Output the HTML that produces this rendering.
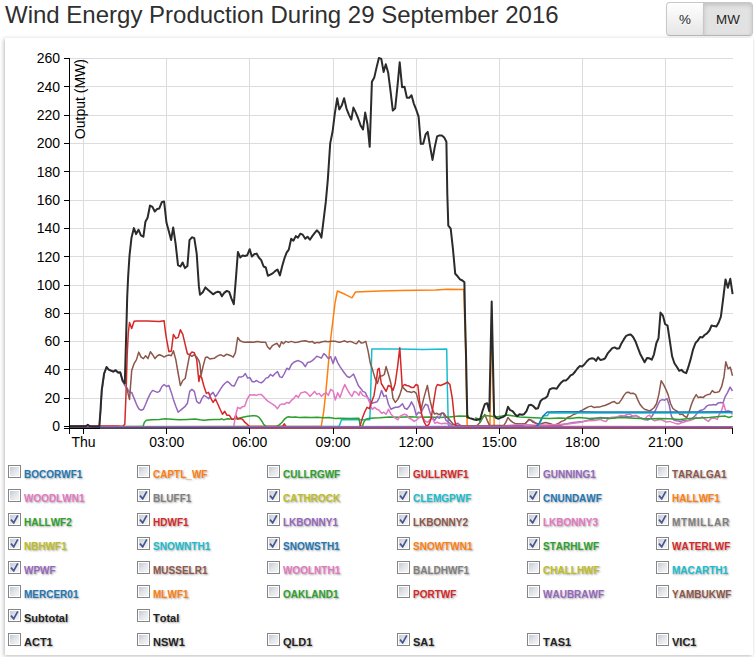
<!DOCTYPE html>
<html>
<head>
<meta charset="utf-8">
<title>Wind Energy Production</title>
<style>
html,body{margin:0;padding:0;background:#fff;}
body{width:755px;height:657px;position:relative;overflow:hidden;font-family:"Liberation Sans",sans-serif;color:#333;}
h1{position:absolute;left:5px;top:-1px;margin:0;font-weight:normal;font-size:24px;line-height:31px;color:#2f2f2f;white-space:nowrap;letter-spacing:0;}
.bg{position:absolute;left:666px;top:2px;height:33px;width:87px;}
.btn{position:absolute;top:0;height:32px;border:1px solid #c8c8c8;border-bottom-color:#b8b8b8;font-size:13.4px;line-height:33px;text-align:center;color:#222;text-shadow:0 1px 1px rgba(255,255,255,.75);box-shadow:inset 0 1px 0 rgba(255,255,255,.2),0 1px 2px rgba(0,0,0,.05);}
.b1{left:0;width:36px;border-radius:4px 0 0 4px;background:linear-gradient(to bottom,#ffffff,#e6e6e6);}
.b2{left:37px;width:48px;border-radius:0 4px 4px 0;background:#e2e2e2;box-shadow:inset 0 2px 4px rgba(0,0,0,.15),0 1px 2px rgba(0,0,0,.05);}
.panel{position:absolute;left:5px;top:38px;width:748px;height:617px;background:#fff;box-shadow:-1px 1px 4px rgba(0,0,0,.27);}
svg{position:absolute;left:0;top:0;}
.t{font-family:"Liberation Sans",sans-serif;font-size:14px;fill:#000;}
.li{position:absolute;height:13px;white-space:nowrap;}
.cb{position:absolute;left:0;top:0;width:11px;height:11px;border:1px solid #858585;background:#fff;}
.cb:before{content:"";position:absolute;left:1px;top:1px;width:9px;height:9px;background:linear-gradient(135deg,#c4cad4 0%,#e2e5e9 50%,#f6f6f6 100%);}
.cb svg{position:absolute;left:0;top:0;}
.lb{position:absolute;left:16px;top:3px;font-kerning:none;font-size:10px;font-weight:bold;line-height:13px;text-shadow:1px 1px 2px rgba(0,0,0,.35);}
.lb.k{font-size:11px;}
</style>
</head>
<body>
<h1>Wind Energy Production During 29 September 2016</h1>
<div class="bg"><div class="btn b1">%</div><div class="btn b2">MW</div></div>
<div class="panel"></div>
<svg width="755" height="657" viewBox="0 0 755 657">
<line x1="83.5" x2="83.5" y1="58.5" y2="426.5" stroke="#dcdcdc" stroke-width="1" shape-rendering="crispEdges"/>
<line x1="166.7" x2="166.7" y1="58.5" y2="426.5" stroke="#dcdcdc" stroke-width="1" shape-rendering="crispEdges"/>
<line x1="249.8" x2="249.8" y1="58.5" y2="426.5" stroke="#dcdcdc" stroke-width="1" shape-rendering="crispEdges"/>
<line x1="333.0" x2="333.0" y1="58.5" y2="426.5" stroke="#dcdcdc" stroke-width="1" shape-rendering="crispEdges"/>
<line x1="416.1" x2="416.1" y1="58.5" y2="426.5" stroke="#dcdcdc" stroke-width="1" shape-rendering="crispEdges"/>
<line x1="499.2" x2="499.2" y1="58.5" y2="426.5" stroke="#dcdcdc" stroke-width="1" shape-rendering="crispEdges"/>
<line x1="582.4" x2="582.4" y1="58.5" y2="426.5" stroke="#dcdcdc" stroke-width="1" shape-rendering="crispEdges"/>
<line x1="665.6" x2="665.6" y1="58.5" y2="426.5" stroke="#dcdcdc" stroke-width="1" shape-rendering="crispEdges"/>
<line x1="69.5" x2="732.5" y1="58.5" y2="58.5" stroke="#dcdcdc" stroke-width="1" shape-rendering="crispEdges"/>
<line x1="69.5" x2="732.5" y1="86.8" y2="86.8" stroke="#dcdcdc" stroke-width="1" shape-rendering="crispEdges"/>
<line x1="69.5" x2="732.5" y1="115.1" y2="115.1" stroke="#dcdcdc" stroke-width="1" shape-rendering="crispEdges"/>
<line x1="69.5" x2="732.5" y1="143.4" y2="143.4" stroke="#dcdcdc" stroke-width="1" shape-rendering="crispEdges"/>
<line x1="69.5" x2="732.5" y1="171.7" y2="171.7" stroke="#dcdcdc" stroke-width="1" shape-rendering="crispEdges"/>
<line x1="69.5" x2="732.5" y1="200.0" y2="200.0" stroke="#dcdcdc" stroke-width="1" shape-rendering="crispEdges"/>
<line x1="69.5" x2="732.5" y1="228.3" y2="228.3" stroke="#dcdcdc" stroke-width="1" shape-rendering="crispEdges"/>
<line x1="69.5" x2="732.5" y1="256.7" y2="256.7" stroke="#dcdcdc" stroke-width="1" shape-rendering="crispEdges"/>
<line x1="69.5" x2="732.5" y1="285.0" y2="285.0" stroke="#dcdcdc" stroke-width="1" shape-rendering="crispEdges"/>
<line x1="69.5" x2="732.5" y1="313.3" y2="313.3" stroke="#dcdcdc" stroke-width="1" shape-rendering="crispEdges"/>
<line x1="69.5" x2="732.5" y1="341.6" y2="341.6" stroke="#dcdcdc" stroke-width="1" shape-rendering="crispEdges"/>
<line x1="69.5" x2="732.5" y1="369.9" y2="369.9" stroke="#dcdcdc" stroke-width="1" shape-rendering="crispEdges"/>
<line x1="69.5" x2="732.5" y1="398.2" y2="398.2" stroke="#dcdcdc" stroke-width="1" shape-rendering="crispEdges"/>
<path d="M69.5,426.8L339.1,426.4L341.5,419.8L341.6,419.8L369.8,419.8L370.4,404.3L371.8,349.1L399.6,349.1L423.4,349.5L446.7,349.1L447.3,384.5L448.3,424.2L449.3,426.4" fill="none" stroke="#17becf" stroke-width="1.5" stroke-linejoin="round"/>
<path d="M69.5,426.8L321.2,426.4L323.6,412.3L326.0,390.4L328.3,364.6L330.7,338.8L333.1,318.9L335.1,302.5L337.4,291.0L345.0,294.3L352.0,297.8L355.5,292.0L380.0,290.9L400.0,290.6L435.8,290.0L447.7,289.3L463.8,289.4L465.6,349.0L467.2,426.8L489.9,426.8L491.6,316.0L494.2,426.8L732.5,426.8" fill="none" stroke="#ff7f0e" stroke-width="1.5" stroke-linejoin="round"/>
<path d="M69.3,426.4L143.0,426.4L144.4,422.2L146.4,420.2L151.4,419.8L159.3,419.4L165.3,418.8L171.3,419.2L179.2,419.8L187.2,419.4L195.1,419.0L200.0,419.8L204.0,420.2L208.9,419.8L213.9,419.4L219.9,419.6L221.9,418.8L223.8,419.8L227.8,418.8L232.8,419.2L237.7,418.6L242.7,417.3L247.7,416.3L252.6,415.7L256.6,415.9L259.0,417.3L261.2,420.2L263.6,424.2L266.0,426.4L276.5,426.4L279.5,424.6L282.1,422.2L284.4,419.2L286.8,417.3L289.0,416.7L291.4,417.3L295.4,416.9L299.3,417.6L305.3,417.3L311.3,417.6L317.2,417.3L323.2,417.8L329.1,417.6L335.1,418.6L340.0,418.2L349.9,418.6L358.9,418.2L359.9,424.2L360.9,426.4L362.3,426.4L363.8,422.2L365.8,419.2L369.8,418.2L379.7,417.8L389.7,416.9L399.6,417.3L409.5,416.7L419.5,417.3L429.4,416.9L439.3,417.6L449.3,416.9L459.2,415.9L469.1,416.3" fill="none" stroke="#2ca02c" stroke-width="1.5" stroke-linejoin="round"/>
<path d="M69.3,426.0L117.6,426.0L122.6,426.6L124.8,424.2L126.0,394.4L127.2,354.7L128.3,332.8L129.5,322.5L131.7,328.4L134.1,321.3L136.5,320.9L147.4,321.1L159.3,321.5L164.1,320.7L165.3,330.8L166.5,338.8L168.9,351.7L171.3,351.1L173.4,334.4L175.8,338.4L178.2,337.4L180.4,329.8L182.8,334.4L185.2,344.7L187.4,353.7L189.7,354.7L191.9,352.1L194.3,352.7L196.7,359.6L198.9,381.5L200.0,375.5L201.6,377.5L204.0,386.5L206.4,393.4L208.5,392.4L210.9,398.4L213.1,402.4L215.5,399.0L217.9,404.3L220.1,409.3L222.5,414.3L224.8,411.3L227.0,415.3L229.4,415.3L231.8,419.2L234.0,419.2L235.8,415.3L237.7,419.2L240.1,418.6L242.5,419.2L244.7,422.2L247.1,424.2L249.3,426.4L282.5,426.4L284.4,423.8L285.8,426.4" fill="none" stroke="#d62728" stroke-width="1.5" stroke-linejoin="round"/>
<path d="M69.3,426.4L99.3,426.6L100.7,410.3L101.9,390.4L104.3,373.7L106.7,367.4L108.9,369.8L111.3,371.0L113.4,371.8L115.8,370.4L118.2,372.7L120.4,372.5L122.6,381.5L124.8,385.5L127.2,388.4L129.5,392.4L131.7,392.4L134.1,398.4L136.5,404.3L138.7,408.7L141.1,410.3L143.4,409.3L145.6,404.3L148.0,398.4L150.4,393.4L152.6,390.4L155.0,391.4L157.4,392.4L159.5,391.4L161.9,386.5L164.1,384.5L166.5,386.5L168.9,385.5L171.3,392.4L173.4,399.4L175.8,406.3L178.2,412.3L180.4,410.3L182.8,408.3L185.2,406.3L187.4,403.3L189.7,391.4L191.9,389.4L194.3,391.4L196.7,401.4L198.9,403.3L200.0,402.9L202.0,398.4L204.0,395.4L206.4,396.8L208.7,398.8L210.9,394.4L213.1,392.4L215.5,396.8L217.9,393.4L220.3,389.4L222.5,386.1L224.8,383.5L227.2,381.5L229.4,382.9L231.8,385.5L234.2,386.1L236.4,381.5L238.7,376.9L241.1,377.1L243.3,376.1L245.3,373.5L247.7,378.1L249.7,377.5L252.1,381.5L254.2,381.9L256.6,380.5L259.0,382.1L261.2,382.9L263.6,381.1L266.0,378.1L268.1,377.5L270.5,374.5L272.9,376.1L275.1,373.5L277.5,371.6L279.9,376.9L282.1,377.5L284.4,373.5L286.8,368.2L289.0,369.6L291.4,364.6L293.8,362.2L296.0,361.2L298.3,360.6L300.7,361.6L302.9,363.2L305.3,366.6L307.5,362.6L309.9,362.0L312.3,360.6L314.6,358.6L316.8,356.3L319.2,357.1L321.4,358.2L323.8,353.7L326.2,355.7L328.3,358.6L330.7,356.7L333.1,363.6L335.3,356.7L337.7,362.6L340.0,366.6L342.4,370.2L344.8,373.5L347.2,376.5L349.5,377.5L351.9,375.5L353.5,374.1L355.9,379.5L358.3,385.5L360.7,388.4L362.8,391.4L365.2,392.4L367.6,397.4L369.8,400.4L372.2,403.3L374.6,402.4L377.0,401.8L379.1,398.4L381.5,390.4L383.9,396.4L386.1,395.4L388.5,404.3L390.9,409.3L393.0,408.3L395.4,407.3L397.8,407.3L400.0,406.3L402.4,403.7L404.8,408.3L407.0,409.3L409.3,406.3L411.5,401.8L413.9,406.3L416.3,415.3L418.5,412.3L420.9,413.3L423.2,408.3L425.4,404.3L427.8,405.3L430.2,413.3L432.4,418.2L434.8,420.2L437.2,416.3L439.3,418.2L441.7,413.3L443.3,413.3L445.9,420.2L448.3,422.2L450.7,424.2L452.8,424.8L455.2,424.2L457.6,423.2L460.0,425.2L462.2,426.2L480.0,425.8L522.7,425.6L526.7,422.0L529.7,419.4L533.6,421.4L537.6,424.8L545.6,425.4L559.5,425.4L565.4,424.0L573.4,422.4L583.3,421.4L591.3,419.4L597.2,418.6L600.0,417.5L606.0,418.0L611.9,417.5L617.9,416.9L623.8,416.1L629.8,416.9L635.8,415.5L639.7,417.5L643.7,419.4L647.7,420.0L650.7,418.4L653.0,414.5L655.4,410.5L657.6,405.5L660.0,400.6L662.4,399.6L664.6,400.2L667.0,398.6L669.3,405.5L671.5,416.5L673.9,420.0L676.3,420.8L678.5,421.0L680.9,421.4L683.4,420.4L685.8,420.8L688.2,420.4L690.4,419.4L692.8,418.0L695.4,415.5L697.4,412.9L699.7,410.5L702.1,410.1L704.3,408.9L706.7,406.1L709.1,404.9L711.3,404.9L713.6,404.5L716.0,404.9L718.2,402.9L720.6,402.5L723.0,402.9L725.2,396.6L727.5,392.6L730.1,387.1L732.5,391.0" fill="none" stroke="#9467bd" stroke-width="1.5" stroke-linejoin="round"/>
<path d="M126.4,386.9L129.5,399.4L131.7,370.6L134.1,363.6L136.5,359.6L138.7,352.1L141.1,357.1L143.4,358.6L145.6,355.7L148.0,358.6L150.4,351.7L152.6,354.7L155.0,358.6L157.4,355.7L159.5,354.7L161.9,355.7L164.1,357.1L166.5,355.7L168.9,355.1L171.3,355.7L173.4,350.7L175.8,359.6L178.2,373.5L180.4,385.5L182.8,380.5L185.2,378.5L187.4,366.6L189.7,354.7L191.9,356.3L194.3,354.7L196.7,357.1L198.9,360.6L200.0,364.6L201.0,375.5L203.0,366.6L205.4,357.6L207.5,357.1L209.9,359.0L212.3,358.6L214.5,358.2L216.9,356.3L219.3,355.1L221.5,355.1L223.8,356.3L226.2,354.3L228.4,354.7L230.8,355.7L233.2,357.1L235.4,352.7L237.7,337.4L240.1,340.8L242.5,341.8L244.7,342.2L249.7,342.0L253.6,342.2L257.6,341.4L261.6,342.2L265.6,342.2L267.5,346.7L269.9,349.1L272.3,345.7L274.7,344.3L277.1,343.3L279.5,347.1L281.5,341.8L283.4,343.7L285.8,341.4L288.4,342.4L291.4,341.4L294.4,342.4L297.4,342.2L301.3,341.2L305.3,340.8L309.3,342.0L312.3,341.4L314.6,343.3L317.2,342.4L319.2,342.7L322.2,341.8L325.2,341.2L328.1,341.8L331.1,341.2L335.1,341.2L339.1,342.2L340.0,342.2L342.4,341.4L344.8,340.8L347.2,342.2L349.5,341.4L351.9,341.8L354.3,343.1L356.5,343.7L358.9,340.8L361.3,343.1L363.4,342.7L365.8,341.4L368.0,350.7L370.4,363.6L372.8,370.6L375.0,378.1L377.4,383.5L379.7,375.5L381.9,376.1L384.3,374.5L386.1,366.6L388.5,374.5L390.9,383.5L393.0,398.4L395.4,402.4L397.8,399.4L400.0,394.4L402.4,386.5L404.8,389.4L407.0,391.4L409.3,391.8L411.7,392.4L413.9,391.4L416.3,393.4L418.7,402.4L420.9,410.3L423.2,400.4L425.4,392.4L427.4,385.5L429.8,399.4L432.0,408.3L434.4,413.9L436.8,413.3L438.9,414.7L441.3,413.3L443.7,413.3L445.9,416.3L448.3,418.2L450.7,421.2L452.8,423.8L455.2,425.2L463.2,425.8L477.1,425.4L480.0,422.4L482.4,418.4L484.8,414.5L487.2,420.4L489.5,425.4L503.8,425.4L505.8,422.4L508.0,417.5L510.4,420.4L512.8,422.4L515.0,423.4L519.7,423.8L525.7,423.4L528.7,419.4L531.1,420.4L533.2,422.4L537.6,423.8L541.6,423.4L545.6,422.4L549.5,423.4L552.5,424.4L555.5,424.8L558.5,423.4L561.5,421.4L564.4,420.4L567.4,417.5L570.4,416.5L573.4,414.5L576.4,413.5L579.3,411.5L582.3,410.1L585.3,408.5L588.3,406.9L591.3,406.1L594.2,407.5L597.2,406.9L600.0,406.9L602.4,406.1L604.8,405.5L607.2,404.5L609.5,403.5L611.9,402.2L614.3,401.6L616.7,403.5L619.1,402.9L621.5,399.6L623.8,395.6L626.2,392.6L628.6,392.2L630.8,393.6L633.2,393.2L635.6,394.6L637.7,399.6L640.1,404.5L642.5,407.5L644.9,409.5L647.3,410.1L649.7,410.9L651.9,409.5L654.2,407.5L656.6,403.5L658.8,394.6L661.2,380.7L663.6,384.7L666.0,389.6L668.1,394.6L670.5,403.5L672.9,408.5L675.1,410.1L677.5,411.5L679.9,414.5L682.3,414.1L684.4,416.1L686.8,417.5L689.2,411.5L691.4,404.5L693.8,398.6L696.2,394.6L698.3,397.6L700.7,397.0L703.1,397.6L705.3,395.6L707.7,394.6L710.1,394.2L712.3,390.6L714.6,392.6L717.0,392.2L719.2,391.6L721.6,386.7L724.0,376.7L725.8,361.8L728.1,368.8L730.3,367.2L732.5,375.7" fill="none" stroke="#8c564b" stroke-width="1.5" stroke-linejoin="round"/>
<path d="M233.8,426.2L235.4,416.3L237.7,407.3L240.1,408.7L242.5,406.7L244.7,406.3L247.1,399.4L249.7,394.8L252.1,395.0L254.2,394.8L256.6,395.4L259.0,394.4L261.2,394.4L263.6,396.8L266.0,399.4L268.1,401.4L270.5,402.9L272.9,404.3L275.1,405.9L277.5,408.7L279.9,404.9L282.1,403.9L284.4,404.3L286.8,402.4L289.0,403.3L291.4,400.4L293.8,398.4L296.0,395.4L298.3,397.4L300.7,393.0L302.9,392.4L305.3,391.8L307.5,393.4L309.9,396.4L312.3,394.0L314.6,391.4L316.8,394.4L319.2,393.4L321.4,396.4L323.8,394.0L326.2,392.8L328.3,395.4L330.7,389.4L333.1,390.8L335.3,400.0L337.7,392.8L340.0,397.4L342.4,390.4L344.8,384.5L347.2,389.4L349.5,393.4L351.9,396.4L354.3,391.4L356.5,392.4L358.9,395.4L360.3,391.4L362.8,395.4L365.2,396.4L367.6,397.4L369.8,403.3L372.2,409.3L374.6,407.3L377.0,409.3L379.1,410.3L381.5,413.3L383.9,412.3L386.1,414.3L388.5,409.3L390.9,413.9L393.0,416.3L395.4,418.2L397.8,419.8L400.0,416.3L402.4,414.9L404.8,414.3L407.0,415.3L409.3,418.2L411.5,419.2L413.9,421.2L416.3,420.2L418.5,418.2L420.9,416.3L423.2,418.2L425.4,421.2L427.8,422.2L430.2,419.2L432.4,418.2L434.8,423.2L437.2,422.2L439.3,423.2L441.7,423.8L444.1,423.2L446.5,423.6L448.9,424.2L451.3,425.2L453.4,426.2L479.1,426.2L499.9,426.4L507.8,425.4L519.7,424.4L527.7,424.8L539.6,425.4L559.5,424.4L569.4,423.8L579.3,422.4L587.3,420.8L595.2,420.4L600.0,419.4L603.0,420.8L606.0,421.4L608.9,418.0L611.9,417.5L614.9,418.4L617.9,416.5L620.9,415.5L623.8,416.1L626.8,414.5L629.8,414.1L632.8,416.1L635.8,415.5L638.7,417.5L641.7,418.4L644.7,419.4L647.3,416.1L649.7,415.1L652.1,419.4L654.6,420.8L657.6,420.0L660.6,419.4L663.6,420.8L666.6,422.0L669.5,421.4L672.5,422.4L675.5,423.4L678.5,424.0L681.5,422.8L684.4,422.0L687.4,420.8L690.4,420.4L693.4,419.4L696.4,417.5L699.3,418.4L702.3,416.9L705.3,419.4L708.3,421.4L711.3,418.4L714.2,418.0L717.2,419.4L719.2,414.5L721.6,410.5L723.6,403.5L725.8,411.5L728.1,410.5L730.3,411.5L732.5,414.5" fill="none" stroke="#e377c2" stroke-width="1.5" stroke-linejoin="round"/>
<path d="M536.6,426.6L539.6,424.0L543.2,416.1L547.5,415.5L548.9,413.1L579.3,413.1L597.2,413.1L600.0,412.9L639.7,412.9L679.5,413.1L732.5,412.7" fill="none" stroke="#17becf" stroke-width="1.5" stroke-linejoin="round"/>
<path d="M69.5,426.8L533.6,426.6L537.6,425.4L539.6,422.4L542.6,416.5L545.6,413.5L547.5,411.9L559.5,411.7L579.3,411.7L597.2,411.9L600.0,411.9L639.7,412.1L679.5,411.9L732.5,411.7" fill="none" stroke="#1f77b4" stroke-width="1.5" stroke-linejoin="round"/>
<path d="M475.1,417.8L479.1,419.2L480.0,422.4L482.4,416.9L484.8,415.5L489.9,416.1L495.9,416.9L501.9,416.1L507.8,415.1L513.8,416.1L519.7,416.9L529.7,417.5L539.6,418.0L549.5,418.4L559.5,418.0L569.4,418.4L579.3,417.6L589.3,418.4L597.2,418.0L600.0,418.0L609.9,418.4L619.9,417.5L629.8,418.0L639.7,418.4L649.7,418.8L659.6,418.4L669.5,418.8L679.5,419.4L689.4,418.4L699.3,418.0L709.3,417.5L719.2,416.5L725.2,416.1L729.1,417.5L732.5,416.1" fill="none" stroke="#2ca02c" stroke-width="1.5" stroke-linejoin="round"/>
<path d="M359.9,426.4L362.3,418.2L364.6,412.3L367.0,407.3L369.4,408.7L371.8,401.4L374.0,395.4L376.4,380.5L377.7,369.6L379.1,368.2L381.3,383.5L383.7,387.5L386.1,391.4L388.3,385.5L390.7,386.5L393.0,390.4L395.2,383.5L397.6,366.6L399.8,347.7L402.2,386.5L404.6,384.5L406.8,385.5L409.1,386.1L411.5,387.5L413.7,387.5L416.1,384.5L417.9,385.5L419.5,400.4L421.9,415.3L424.2,422.2L426.6,426.4L429.0,424.2L431.2,418.2L433.6,402.4L436.0,387.5L437.4,384.5L440.5,385.5L442.9,384.5L445.3,383.5L447.5,382.1L449.9,384.5L452.3,398.4L454.4,419.2L456.2,426.6L732.5,426.7" fill="none" stroke="#d62728" stroke-width="1.5" stroke-linejoin="round"/>
<line x1="69.5" x2="249.0" y1="428.0" y2="428.0" stroke="#111" stroke-width="1.3"/>
<line x1="249.0" x2="732.5" y1="428.0" y2="428.0" stroke="#7a1422" stroke-width="1.3"/>
<line x1="69.5" x2="732.5" y1="426.7" y2="426.7" stroke="#9467bd" stroke-width="1.5"/>
<path d="M69.3,426.2L85.8,426.2L87.8,424.8L89.8,426.2L99.3,426.6L100.5,410.3L101.7,390.4L104.1,373.5L106.5,367.0L108.7,369.6L111.1,370.6L113.2,371.6L115.6,370.2L118.0,372.5L120.2,372.2L122.6,380.5L124.8,383.5L126.6,319.9L127.2,297.3L128.1,277.4L129.5,255.6L131.5,237.7L133.9,228.1L136.1,234.1L138.5,229.7L140.9,235.3L143.4,236.7L145.4,221.8L147.6,217.8L150.0,205.5L152.4,206.9L154.8,211.5L157.2,208.9L159.3,208.5L161.7,202.3L164.1,201.5L166.5,222.8L168.7,230.7L171.1,240.1L173.2,227.4L175.6,243.6L178.0,265.1L180.4,266.5L182.6,262.5L185.0,268.1L187.4,266.1L189.5,240.1L191.9,237.3L194.3,238.1L196.7,253.6L198.9,286.4L200.0,294.7L202.8,292.3L205.4,287.4L207.9,289.7L210.5,291.9L213.1,294.3L215.5,292.7L217.9,291.7L219.9,292.3L221.9,296.3L224.2,292.9L226.8,290.9L229.2,291.9L231.4,298.3L233.8,304.2L236.0,277.4L237.9,252.0L240.3,257.5L242.5,255.6L244.9,256.0L247.3,255.2L249.7,249.2L251.9,256.6L254.2,254.2L256.6,253.6L258.8,257.5L261.2,260.1L263.6,266.5L265.8,267.5L267.9,275.8L270.3,274.6L272.7,273.4L275.1,271.1L277.5,269.5L279.9,275.4L282.1,266.5L284.4,258.5L286.6,252.6L288.8,249.6L291.2,238.7L293.4,240.7L295.8,236.1L297.9,237.7L300.3,233.7L302.7,234.7L305.3,238.7L307.5,236.7L309.9,239.7L312.3,236.1L314.6,233.1L316.8,230.3L319.2,232.7L321.4,237.7L323.6,219.8L325.8,201.9L327.8,179.9L330.2,143.4L332.6,131.5L334.8,113.6L337.2,98.3L339.3,109.6L341.7,105.6L344.1,98.3L346.5,108.6L348.9,114.6L351.3,119.5L353.4,107.6L355.8,112.6L358.2,118.5L360.6,125.5L363.0,129.5L365.2,112.6L367.5,124.5L369.7,146.8L371.9,81.8L374.3,77.4L376.7,66.9L378.9,57.9L381.3,58.9L383.6,71.9L385.8,64.3L388.2,72.8L390.6,91.7L392.8,110.6L395.2,108.2L397.5,85.8L399.7,62.3L402.1,87.2L404.5,86.8L406.9,97.7L409.3,97.7L411.5,95.3L413.8,103.6L416.2,109.6L418.6,116.6L420.8,143.8L423.2,143.8L425.6,134.4L427.7,131.9L430.1,146.4L432.5,159.9L434.7,147.4L437.1,136.4L439.5,135.4L441.9,135.4L444.2,137.4L446.4,141.8L447.3,193.8L448.3,225.6L450.7,228.6L453.0,249.5L455.2,273.7L457.6,276.3L460.0,279.3L462.4,280.5L464.4,282.3L465.1,319.8L465.9,349.6L467.3,417.2L469.7,418.1L471.9,418.7L474.2,419.5L476.4,419.9L480.2,419.1L482.4,411.2L484.8,404.2L487.2,403.2L489.3,411.2L491.7,301.5L494.1,415.2L496.3,418.1L498.7,418.7L501.1,417.7L503.2,416.8L505.6,415.2L508.0,406.8L510.2,410.2L512.6,411.2L515.0,414.2L517.2,416.2L519.5,414.2L521.9,414.8L524.1,414.2L526.5,411.2L528.9,405.2L531.1,404.8L533.4,406.2L535.8,408.8L538.0,408.2L540.4,401.3L542.8,398.9L545.0,398.3L547.4,396.3L549.7,389.3L551.9,388.3L554.3,388.3L556.7,388.7L558.9,385.4L561.3,382.4L563.6,380.4L565.8,380.4L568.2,378.4L570.6,375.4L572.8,374.4L575.2,371.5L577.4,368.5L579.7,366.1L582.1,366.5L584.3,364.5L586.7,361.5L589.1,359.1L592.0,358.3L594.0,358.7L596.0,360.9L598.1,357.3L600.3,359.9L602.7,359.5L605.1,358.3L607.5,353.7L609.9,350.9L612.3,348.1L614.6,347.4L616.8,348.7L619.2,348.3L621.4,343.4L623.8,339.4L626.2,335.8L628.5,334.8L630.7,334.4L633.1,337.0L635.5,341.4L637.7,347.4L640.1,353.7L642.5,358.3L644.6,362.3L647.0,357.9L649.4,358.3L651.8,359.7L654.0,354.3L656.4,343.0L658.5,338.4L660.5,312.6L662.9,315.6L665.1,324.1L667.5,325.5L669.9,341.4L672.1,356.3L674.4,363.2L676.8,366.8L679.2,370.8L681.4,369.8L683.8,372.2L686.2,373.2L688.3,367.2L690.7,358.9L693.1,349.3L695.5,343.0L697.7,340.6L700.1,337.0L702.5,337.4L704.6,335.0L707.0,333.4L709.4,330.5L711.6,325.5L714.0,326.1L716.4,326.5L718.7,322.5L720.9,316.6L723.3,297.7L725.5,279.4L727.9,287.7L730.3,278.8L732.6,294.1" fill="none" stroke="#2b2b2b" stroke-width="2" stroke-linejoin="round"/>
<path d="M63.5,58.5H69.5V428" fill="none" stroke="#000" stroke-width="1" shape-rendering="crispEdges"/>
<line x1="63.5" x2="69.5" y1="58.5" y2="58.5" stroke="#000" stroke-width="1" shape-rendering="crispEdges"/>
<text x="60" y="63.3" text-anchor="end" class="t">260</text>
<line x1="63.5" x2="69.5" y1="86.8" y2="86.8" stroke="#000" stroke-width="1" shape-rendering="crispEdges"/>
<text x="60" y="91.6" text-anchor="end" class="t">240</text>
<line x1="63.5" x2="69.5" y1="115.1" y2="115.1" stroke="#000" stroke-width="1" shape-rendering="crispEdges"/>
<text x="60" y="119.9" text-anchor="end" class="t">220</text>
<line x1="63.5" x2="69.5" y1="143.4" y2="143.4" stroke="#000" stroke-width="1" shape-rendering="crispEdges"/>
<text x="60" y="148.2" text-anchor="end" class="t">200</text>
<line x1="63.5" x2="69.5" y1="171.7" y2="171.7" stroke="#000" stroke-width="1" shape-rendering="crispEdges"/>
<text x="60" y="176.5" text-anchor="end" class="t">180</text>
<line x1="63.5" x2="69.5" y1="200.0" y2="200.0" stroke="#000" stroke-width="1" shape-rendering="crispEdges"/>
<text x="60" y="204.8" text-anchor="end" class="t">160</text>
<line x1="63.5" x2="69.5" y1="228.3" y2="228.3" stroke="#000" stroke-width="1" shape-rendering="crispEdges"/>
<text x="60" y="233.1" text-anchor="end" class="t">140</text>
<line x1="63.5" x2="69.5" y1="256.7" y2="256.7" stroke="#000" stroke-width="1" shape-rendering="crispEdges"/>
<text x="60" y="261.5" text-anchor="end" class="t">120</text>
<line x1="63.5" x2="69.5" y1="285.0" y2="285.0" stroke="#000" stroke-width="1" shape-rendering="crispEdges"/>
<text x="60" y="289.8" text-anchor="end" class="t">100</text>
<line x1="63.5" x2="69.5" y1="313.3" y2="313.3" stroke="#000" stroke-width="1" shape-rendering="crispEdges"/>
<text x="60" y="318.1" text-anchor="end" class="t">80</text>
<line x1="63.5" x2="69.5" y1="341.6" y2="341.6" stroke="#000" stroke-width="1" shape-rendering="crispEdges"/>
<text x="60" y="346.4" text-anchor="end" class="t">60</text>
<line x1="63.5" x2="69.5" y1="369.9" y2="369.9" stroke="#000" stroke-width="1" shape-rendering="crispEdges"/>
<text x="60" y="374.7" text-anchor="end" class="t">40</text>
<line x1="63.5" x2="69.5" y1="398.2" y2="398.2" stroke="#000" stroke-width="1" shape-rendering="crispEdges"/>
<text x="60" y="403.0" text-anchor="end" class="t">20</text>
<line x1="63.5" x2="69.5" y1="426.5" y2="426.5" stroke="#000" stroke-width="1" shape-rendering="crispEdges"/>
<text x="60" y="431.3" text-anchor="end" class="t">0</text>
<path d="M69.5,434V428.2M732.5,434V428.2" fill="none" stroke="#000" stroke-width="1" shape-rendering="crispEdges"/>
<line x1="63.5" x2="99.5" y1="428.2" y2="428.2" stroke="#000" stroke-width="1" shape-rendering="crispEdges"/>
<line x1="83.5" x2="83.5" y1="428.2" y2="434" stroke="#000" stroke-width="1" shape-rendering="crispEdges"/>
<text x="83.5" y="447" text-anchor="middle" class="t">Thu</text>
<line x1="166.7" x2="166.7" y1="428.2" y2="434" stroke="#000" stroke-width="1" shape-rendering="crispEdges"/>
<text x="166.7" y="447" text-anchor="middle" class="t">03:00</text>
<line x1="249.8" x2="249.8" y1="428.2" y2="434" stroke="#000" stroke-width="1" shape-rendering="crispEdges"/>
<text x="249.8" y="447" text-anchor="middle" class="t">06:00</text>
<line x1="333.0" x2="333.0" y1="428.2" y2="434" stroke="#000" stroke-width="1" shape-rendering="crispEdges"/>
<text x="333.0" y="447" text-anchor="middle" class="t">09:00</text>
<line x1="416.1" x2="416.1" y1="428.2" y2="434" stroke="#000" stroke-width="1" shape-rendering="crispEdges"/>
<text x="416.1" y="447" text-anchor="middle" class="t">12:00</text>
<line x1="499.2" x2="499.2" y1="428.2" y2="434" stroke="#000" stroke-width="1" shape-rendering="crispEdges"/>
<text x="499.2" y="447" text-anchor="middle" class="t">15:00</text>
<line x1="582.4" x2="582.4" y1="428.2" y2="434" stroke="#000" stroke-width="1" shape-rendering="crispEdges"/>
<text x="582.4" y="447" text-anchor="middle" class="t">18:00</text>
<line x1="665.6" x2="665.6" y1="428.2" y2="434" stroke="#000" stroke-width="1" shape-rendering="crispEdges"/>
<text x="665.6" y="447" text-anchor="middle" class="t">21:00</text>
<text transform="translate(85.4,59) rotate(-90)" text-anchor="end" class="t">Output (MW)</text>
</svg>
<div class="li" style="left:8px;top:465px"><span class="cb"></span><span class="lb" style="color:#1f77b4">BOCORWF1</span></div>
<div class="li" style="left:137px;top:465px"><span class="cb"></span><span class="lb" style="color:#ff7f0e">CAPTL_WF</span></div>
<div class="li" style="left:267px;top:465px"><span class="cb"></span><span class="lb" style="color:#2ca02c">CULLRGWF</span></div>
<div class="li" style="left:397px;top:465px"><span class="cb"></span><span class="lb" style="color:#d62728">GULLRWF1</span></div>
<div class="li" style="left:527px;top:465px"><span class="cb"></span><span class="lb" style="color:#9467bd">GUNNING1</span></div>
<div class="li" style="left:656px;top:465px"><span class="cb"></span><span class="lb" style="color:#8c564b">TARALGA1</span></div>
<div class="li" style="left:8px;top:489px"><span class="cb"></span><span class="lb" style="color:#e377c2">WOODLWN1</span></div>
<div class="li" style="left:137px;top:489px"><span class="cb"><svg width="11" height="11" viewBox="0 0 11 11"><path d="M2,5.6L4.7,8.8L8.8,1.4" fill="none" stroke="#44548f" stroke-width="1.7"/></svg></span><span class="lb" style="color:#7f7f7f">BLUFF1</span></div>
<div class="li" style="left:267px;top:489px"><span class="cb"><svg width="11" height="11" viewBox="0 0 11 11"><path d="M2,5.6L4.7,8.8L8.8,1.4" fill="none" stroke="#44548f" stroke-width="1.7"/></svg></span><span class="lb" style="color:#bcbd22">CATHROCK</span></div>
<div class="li" style="left:397px;top:489px"><span class="cb"><svg width="11" height="11" viewBox="0 0 11 11"><path d="M2,5.6L4.7,8.8L8.8,1.4" fill="none" stroke="#44548f" stroke-width="1.7"/></svg></span><span class="lb" style="color:#17becf">CLEMGPWF</span></div>
<div class="li" style="left:527px;top:489px"><span class="cb"><svg width="11" height="11" viewBox="0 0 11 11"><path d="M2,5.6L4.7,8.8L8.8,1.4" fill="none" stroke="#44548f" stroke-width="1.7"/></svg></span><span class="lb" style="color:#1f77b4">CNUNDAWF</span></div>
<div class="li" style="left:656px;top:489px"><span class="cb"><svg width="11" height="11" viewBox="0 0 11 11"><path d="M2,5.6L4.7,8.8L8.8,1.4" fill="none" stroke="#44548f" stroke-width="1.7"/></svg></span><span class="lb" style="color:#ff7f0e">HALLWF1</span></div>
<div class="li" style="left:8px;top:513px"><span class="cb"><svg width="11" height="11" viewBox="0 0 11 11"><path d="M2,5.6L4.7,8.8L8.8,1.4" fill="none" stroke="#44548f" stroke-width="1.7"/></svg></span><span class="lb" style="color:#2ca02c">HALLWF2</span></div>
<div class="li" style="left:137px;top:513px"><span class="cb"><svg width="11" height="11" viewBox="0 0 11 11"><path d="M2,5.6L4.7,8.8L8.8,1.4" fill="none" stroke="#44548f" stroke-width="1.7"/></svg></span><span class="lb" style="color:#d62728">HDWF1</span></div>
<div class="li" style="left:267px;top:513px"><span class="cb"><svg width="11" height="11" viewBox="0 0 11 11"><path d="M2,5.6L4.7,8.8L8.8,1.4" fill="none" stroke="#44548f" stroke-width="1.7"/></svg></span><span class="lb" style="color:#9467bd">LKBONNY1</span></div>
<div class="li" style="left:397px;top:513px"><span class="cb"><svg width="11" height="11" viewBox="0 0 11 11"><path d="M2,5.6L4.7,8.8L8.8,1.4" fill="none" stroke="#44548f" stroke-width="1.7"/></svg></span><span class="lb" style="color:#8c564b">LKBONNY2</span></div>
<div class="li" style="left:527px;top:513px"><span class="cb"><svg width="11" height="11" viewBox="0 0 11 11"><path d="M2,5.6L4.7,8.8L8.8,1.4" fill="none" stroke="#44548f" stroke-width="1.7"/></svg></span><span class="lb" style="color:#e377c2">LKBONNY3</span></div>
<div class="li" style="left:656px;top:513px"><span class="cb"><svg width="11" height="11" viewBox="0 0 11 11"><path d="M2,5.6L4.7,8.8L8.8,1.4" fill="none" stroke="#44548f" stroke-width="1.7"/></svg></span><span class="lb" style="color:#7f7f7f;letter-spacing:.7px">MTMILLAR</span></div>
<div class="li" style="left:8px;top:537px"><span class="cb"><svg width="11" height="11" viewBox="0 0 11 11"><path d="M2,5.6L4.7,8.8L8.8,1.4" fill="none" stroke="#44548f" stroke-width="1.7"/></svg></span><span class="lb" style="color:#bcbd22">NBHWF1</span></div>
<div class="li" style="left:137px;top:537px"><span class="cb"><svg width="11" height="11" viewBox="0 0 11 11"><path d="M2,5.6L4.7,8.8L8.8,1.4" fill="none" stroke="#44548f" stroke-width="1.7"/></svg></span><span class="lb" style="color:#17becf">SNOWNTH1</span></div>
<div class="li" style="left:267px;top:537px"><span class="cb"><svg width="11" height="11" viewBox="0 0 11 11"><path d="M2,5.6L4.7,8.8L8.8,1.4" fill="none" stroke="#44548f" stroke-width="1.7"/></svg></span><span class="lb" style="color:#1f77b4">SNOWSTH1</span></div>
<div class="li" style="left:397px;top:537px"><span class="cb"><svg width="11" height="11" viewBox="0 0 11 11"><path d="M2,5.6L4.7,8.8L8.8,1.4" fill="none" stroke="#44548f" stroke-width="1.7"/></svg></span><span class="lb" style="color:#ff7f0e">SNOWTWN1</span></div>
<div class="li" style="left:527px;top:537px"><span class="cb"><svg width="11" height="11" viewBox="0 0 11 11"><path d="M2,5.6L4.7,8.8L8.8,1.4" fill="none" stroke="#44548f" stroke-width="1.7"/></svg></span><span class="lb" style="color:#2ca02c">STARHLWF</span></div>
<div class="li" style="left:656px;top:537px"><span class="cb"><svg width="11" height="11" viewBox="0 0 11 11"><path d="M2,5.6L4.7,8.8L8.8,1.4" fill="none" stroke="#44548f" stroke-width="1.7"/></svg></span><span class="lb" style="color:#d62728">WATERLWF</span></div>
<div class="li" style="left:8px;top:561px"><span class="cb"><svg width="11" height="11" viewBox="0 0 11 11"><path d="M2,5.6L4.7,8.8L8.8,1.4" fill="none" stroke="#44548f" stroke-width="1.7"/></svg></span><span class="lb" style="color:#9467bd">WPWF</span></div>
<div class="li" style="left:137px;top:561px"><span class="cb"></span><span class="lb" style="color:#8c564b">MUSSELR1</span></div>
<div class="li" style="left:267px;top:561px"><span class="cb"></span><span class="lb" style="color:#e377c2">WOOLNTH1</span></div>
<div class="li" style="left:397px;top:561px"><span class="cb"></span><span class="lb" style="color:#7f7f7f">BALDHWF1</span></div>
<div class="li" style="left:527px;top:561px"><span class="cb"></span><span class="lb" style="color:#bcbd22">CHALLHWF</span></div>
<div class="li" style="left:656px;top:561px"><span class="cb"></span><span class="lb" style="color:#17becf">MACARTH1</span></div>
<div class="li" style="left:8px;top:585px"><span class="cb"></span><span class="lb" style="color:#1f77b4">MERCER01</span></div>
<div class="li" style="left:137px;top:585px"><span class="cb"></span><span class="lb" style="color:#ff7f0e">MLWF1</span></div>
<div class="li" style="left:267px;top:585px"><span class="cb"></span><span class="lb" style="color:#2ca02c">OAKLAND1</span></div>
<div class="li" style="left:397px;top:585px"><span class="cb"></span><span class="lb" style="color:#d62728">PORTWF</span></div>
<div class="li" style="left:527px;top:585px"><span class="cb"></span><span class="lb" style="color:#9467bd">WAUBRAWF</span></div>
<div class="li" style="left:656px;top:585px"><span class="cb"></span><span class="lb" style="color:#8c564b">YAMBUKWF</span></div>
<div class="li" style="left:8px;top:609px"><span class="cb"><svg width="11" height="11" viewBox="0 0 11 11"><path d="M2,5.6L4.7,8.8L8.8,1.4" fill="none" stroke="#44548f" stroke-width="1.7"/></svg></span><span class="lb k" style="color:#222">Subtotal</span></div>
<div class="li" style="left:137px;top:609px"><span class="cb"></span><span class="lb k" style="color:#222">Total</span></div>
<div class="li" style="left:8px;top:633px"><span class="cb"></span><span class="lb k" style="color:#222">ACT1</span></div>
<div class="li" style="left:137px;top:633px"><span class="cb"></span><span class="lb k" style="color:#222">NSW1</span></div>
<div class="li" style="left:267px;top:633px"><span class="cb"></span><span class="lb k" style="color:#222">QLD1</span></div>
<div class="li" style="left:397px;top:633px"><span class="cb"><svg width="11" height="11" viewBox="0 0 11 11"><path d="M2,5.6L4.7,8.8L8.8,1.4" fill="none" stroke="#44548f" stroke-width="1.7"/></svg></span><span class="lb k" style="color:#222">SA1</span></div>
<div class="li" style="left:527px;top:633px"><span class="cb"></span><span class="lb k" style="color:#222">TAS1</span></div>
<div class="li" style="left:656px;top:633px"><span class="cb"></span><span class="lb k" style="color:#222">VIC1</span></div>
</body>
</html>
